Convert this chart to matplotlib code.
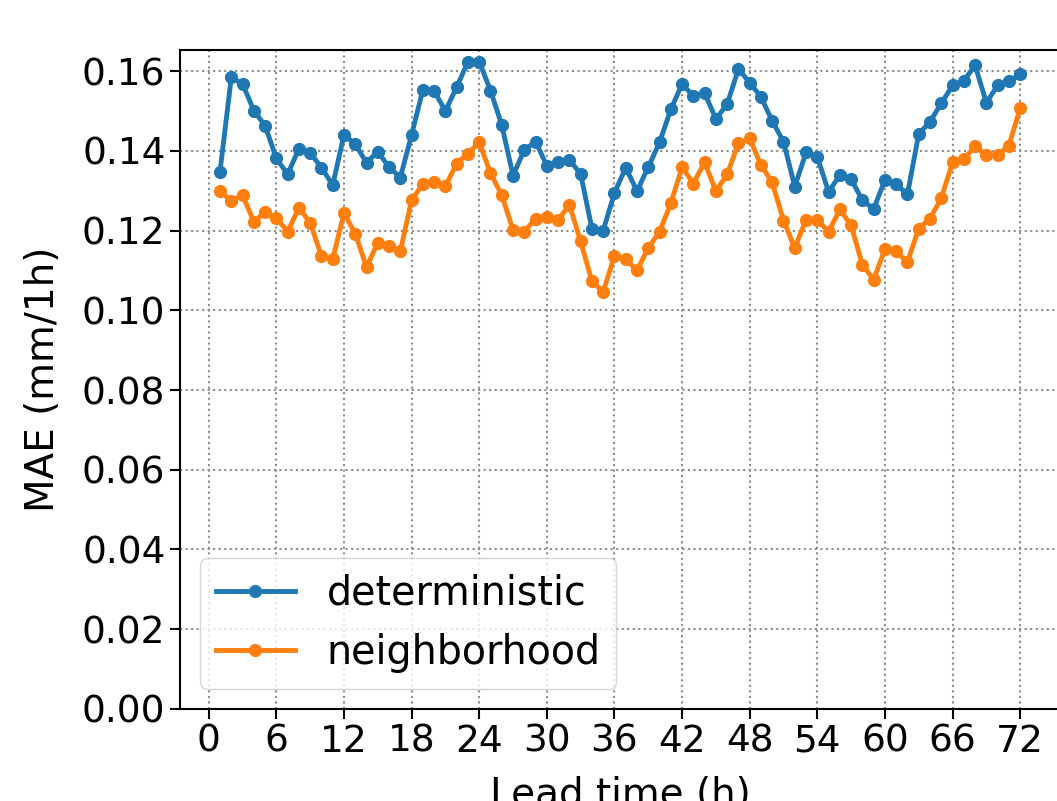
# MAE vs lead time, deterministic vs neighborhood
import numpy as np
import matplotlib
matplotlib.use('Agg')
import matplotlib.pyplot as plt
from matplotlib.ticker import MultipleLocator

# Lead times (h)
lead = list(range(1, 73))

# MAE values
det = [0.1348, 0.1584, 0.1568, 0.1501, 0.1463, 0.1381, 0.1341, 0.1405, 0.1395, 0.1358,
       0.1314, 0.1440, 0.1417, 0.1370, 0.1398, 0.1359, 0.1333, 0.1440, 0.1553, 0.1550,
       0.1500, 0.1560, 0.1623, 0.1624, 0.1551, 0.1465, 0.1338, 0.1402, 0.1423, 0.1363,
       0.1371, 0.1377, 0.1342, 0.1205, 0.1200, 0.1294, 0.1358, 0.1299, 0.1359, 0.1421,
       0.1504, 0.1567, 0.1538, 0.1545, 0.1480, 0.1517, 0.1605, 0.1571, 0.1535, 0.1475,
       0.1423, 0.1310, 0.1396, 0.1385, 0.1297, 0.1339, 0.1329, 0.1276, 0.1254, 0.1327,
       0.1316, 0.1291, 0.1442, 0.1473, 0.1519, 0.1564, 0.1576, 0.1614, 0.1521, 0.1564,
       0.1574, 0.1592]
nbh = [0.1299, 0.1274, 0.1289, 0.1222, 0.1247, 0.1232, 0.1197, 0.1257, 0.1220, 0.1136,
       0.1128, 0.1244, 0.1192, 0.1108, 0.1170, 0.1161, 0.1148, 0.1276, 0.1317, 0.1323,
       0.1311, 0.1368, 0.1393, 0.1421, 0.1344, 0.1289, 0.1201, 0.1197, 0.1230, 0.1234,
       0.1226, 0.1265, 0.1173, 0.1073, 0.1046, 0.1136, 0.1128, 0.1100, 0.1156, 0.1197,
       0.1268, 0.1359, 0.1318, 0.1371, 0.1299, 0.1341, 0.1419, 0.1431, 0.1364, 0.1321,
       0.1225, 0.1156, 0.1227, 0.1227, 0.1197, 0.1253, 0.1213, 0.1114, 0.1077, 0.1153,
       0.1148, 0.1121, 0.1205, 0.1230, 0.1281, 0.1371, 0.1379, 0.1411, 0.1389, 0.1389,
       0.1413, 0.1507]

xticks = list(range(0, 73, 6))

fig = plt.figure(figsize=(10.57, 8.01), dpi=100)
# axes runs past the right edge, like the reference crop
ax = fig.add_axes([0.1703, 0.1149, 0.8327, 0.8227])

ax.plot(lead, det, '-o', color='#1f77b4', lw=3.5, ms=8.5, label='deterministic')
ax.plot(lead, nbh, '-o', color='#ff7f0e', lw=3.5, ms=8.5, label='neighborhood')

ax.set_ylim(bottom=0)
ax.set_xticks(xticks)
ax.yaxis.set_major_locator(MultipleLocator(0.02))
ax.tick_params(labelsize=27, length=7, width=1.5)
for s in ax.spines.values():
    s.set_linewidth(1.5)
ax.spines['right'].set_visible(False)  # cut off in the reference

ax.grid(linestyle=':', color='0.55', linewidth=1.5)
ax.set_xlabel('Lead time (h)', fontsize=28, labelpad=12)
ax.set_ylabel('MAE (mm/1h)', fontsize=28, labelpad=14)
ax.legend(loc='lower left', fontsize=28.5)

fig.savefig('out.png', dpi=100)
